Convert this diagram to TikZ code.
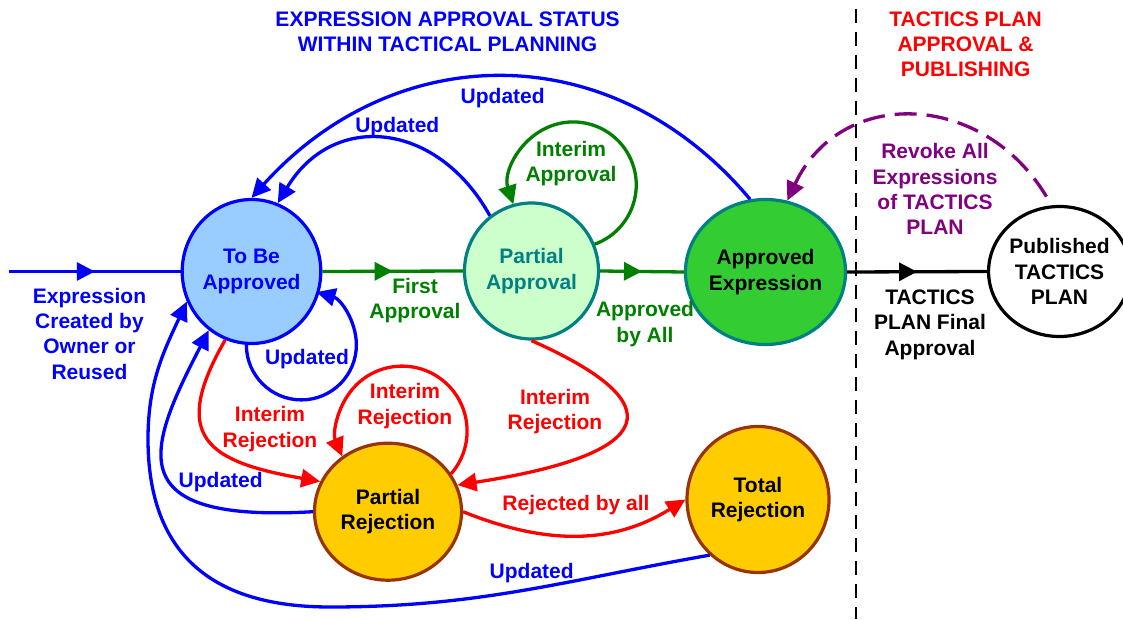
\documentclass[tikz,border=0pt]{standalone}
\usepackage{fontspec}
\setmainfont{Liberation Sans}
\usetikzlibrary{arrows.meta,shapes.geometric,decorations.markings}

\definecolor{tbafill}{HTML}{99CCFF}
\definecolor{pafill}{HTML}{CCFFCC}
\definecolor{aefill}{HTML}{33CC33}
\definecolor{rejfill}{HTML}{FFCC00}
\definecolor{rejline}{HTML}{993300}
\definecolor{stateteal}{HTML}{008080}
\definecolor{apgreen}{HTML}{008000}
\definecolor{revoke}{HTML}{800080}
\definecolor{upblue}{HTML}{0000FF}
\definecolor{rejred}{HTML}{FF0000}

\tikzset{
  conn/.style={line width=3.3pt},
  endarrow/.style={-{Triangle[length=19pt,width=18pt]}},
  midarrow/.style={postaction={decorate},
    decoration={markings,mark=at position 0.5 with {\arrow{Triangle[length=18pt,width=18pt]}}}},
  stateball/.style={ellipse, line width=3.2pt, inner sep=0pt, align=center,
    font=\bfseries\fontsize{21}{25.3}\selectfont},
  lbl/.style={align=center, inner sep=0pt, font=\bfseries\fontsize{21}{25.3}\selectfont},
}

\begin{document}
\begin{tikzpicture}[x=1pt,y=1pt]
\useasboundingbox (0,0) rectangle (1123,619);

% section divider
\coordinate (sepTop) at (856,610);
\coordinate (sepBot) at (856,0);
\draw[line width=1.5pt, dash pattern=on 14pt off 9pt] (sepTop) -- (sepBot);

% headings
\node[lbl, text=upblue] (headL) at (447.6,587.3) {EXPRESSION APPROVAL STATUS\\WITHIN TACTICAL PLANNING};
\node[lbl, text=rejred] (headR) at (965.6,574.8) {TACTICS PLAN\\APPROVAL \&\\PUBLISHING};

% states
\node[stateball, draw=upblue, fill=tbafill, text=upblue, minimum width=134pt, minimum height=144pt]
  (tba) at (251.5,347.5) {To Be\\Approved};
\node[stateball, draw=stateteal, fill=pafill, text=stateteal, minimum width=134pt, minimum height=136pt]
  (pa) at (531.5,348) {Partial\\Approval};
\node[stateball, draw=stateteal, fill=aefill, text=black, minimum width=150pt, minimum height=145pt]
  (ae) at (765.5,347) {Approved\\Expression};
\node[stateball, draw=black, fill=white, text=black, minimum width=132pt, minimum height=130pt]
  (pub) at (1059.5,347.5) {Published\\TACTICS\\PLAN};
\node[stateball, draw=rejline, fill=rejfill, text=black, minimum width=147pt, minimum height=137pt]
  (pr) at (388,107.3) {Partial\\Rejection};
\node[stateball, draw=rejline, fill=rejfill, text=black, minimum width=142pt, minimum height=146pt]
  (tr) at (758,119.5) {Total\\Rejection};

% main flow
\coordinate (entry) at (9,347.5);
\draw[conn, upblue, midarrow] (entry) -- (tba.west);
\draw[conn, apgreen, midarrow] (tba.east) -- (pa.west);
\draw[conn, apgreen, midarrow] (pa.east) -- (ae.west);
\draw[conn, black, midarrow] (ae.east) -- (pub.west);

% approval side loops
\draw[conn, apgreen, endarrow] (pa.23) arc[start angle=-70, end angle=198, radius=63];
\draw[conn, upblue, endarrow] (tba.266) arc[start angle=180, end angle=434, radius=55];
\draw[conn, upblue, endarrow] (pa.127) to[out=119, in=59, looseness=1.3] (tba.69);
\draw[conn, upblue, endarrow] (ae.102) to[out=130, in=48, looseness=1.1] (tba.north);

% rejection paths
\draw[conn, rejred, endarrow] (tba.249) to[out=240, in=170, looseness=1.7] (pr.156);
\draw[conn, rejred, endarrow] (pr.31) arc[start angle=-41, end angle=203, radius=65];
\draw[conn, rejred, endarrow] (pa.270) .. controls (691.5,207.3) and (636.3,161.4) .. (pr.21);
\draw[conn, rejred, endarrow] (pr.east) to[out=-22, in=212] (tr.west);

% updates back to the start state
\draw[conn, upblue, endarrow] (pr.west) .. controls (117,96) and (148,171) .. (tba.234);
\coordinate (b1) at (330,12);
\coordinate (b2) at (148,180);
\draw[conn, upblue, endarrow] (tr.229) to[out=190, in=0] (b1)
  to[out=180, in=270, looseness=1.2] (b2) to[out=90, in=245] (tba.205);

% revoke after publishing
\draw[conn, revoke, endarrow, dash pattern=on 22pt off 10pt, dash phase=22pt]
  (pub.97) to[out=118, in=65, looseness=1.25] (ae.73);

% edge labels
\node[lbl, text=upblue] (lEntry) at (89.5,285.3) {Expression\\Created by\\Owner or\\Reused};
\node[lbl, text=apgreen] (lFirst) at (415,318.5) {First\\Approval};
\node[lbl, text=apgreen] (lAll) at (645,294.8) {Approved\\by All};
\node[lbl, text=black] (lFinal) at (930,294.3) {TACTICS\\PLAN Final\\Approval};
\node[lbl, text=apgreen] (lInterimA) at (571,455.3) {Interim\\Approval};
\node[lbl, text=upblue] (lUpIn) at (397.3,492.3) {Updated};
\node[lbl, text=upblue] (lUpOut) at (502.7,520.7) {Updated};
\node[lbl, text=upblue] (lUpSelf) at (307,260) {Updated};
\node[lbl, text=rejred] (lRejL) at (270,190) {Interim\\Rejection};
\node[lbl, text=rejred] (lRejSelf) at (405,212.8) {Interim\\Rejection};
\node[lbl, text=rejred] (lRejR) at (555,207.3) {Interim\\Rejection};
\node[lbl, text=rejred] (lRejAll) at (576,114) {Rejected by all};
\node[lbl, text=upblue] (lUpPR) at (220.7,137.3) {Updated};
\node[lbl, text=upblue] (lUpTR) at (531.7,45.7) {Updated};
\node[lbl, text=revoke] (lRevoke) at (935,429.8) {Revoke All\\Expressions\\of TACTICS\\PLAN};
\end{tikzpicture}
\end{document}
